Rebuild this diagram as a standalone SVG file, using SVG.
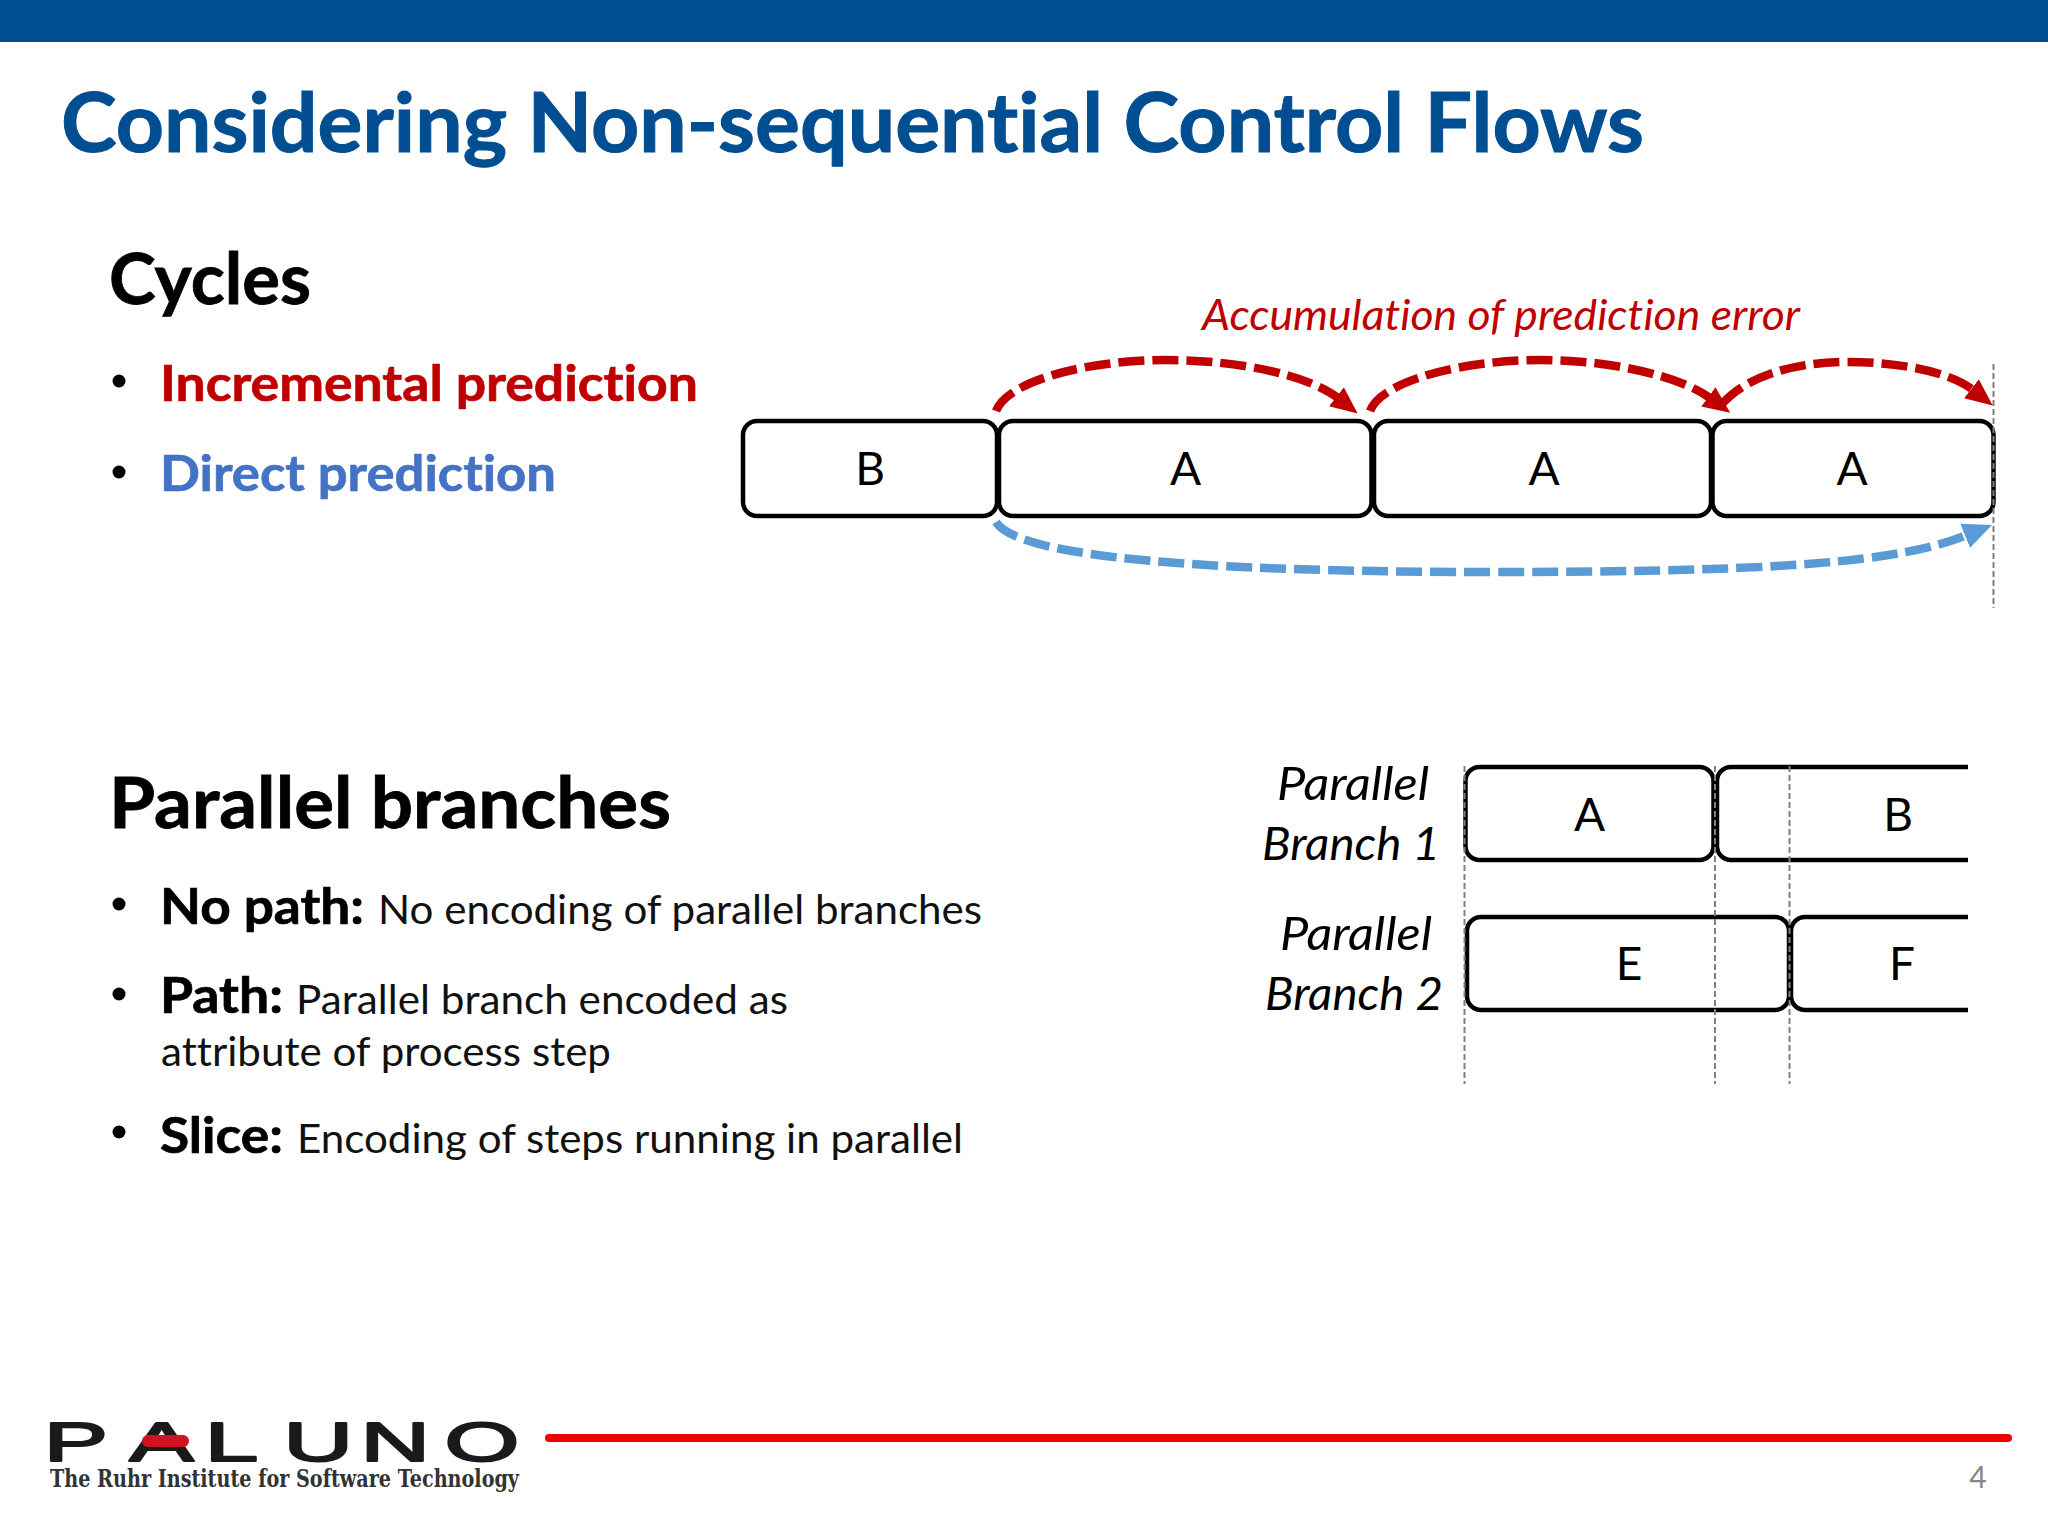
<svg xmlns="http://www.w3.org/2000/svg" width="2048" height="1536" viewBox="0 0 2048 1536">
<style>
text{font-family:Lato,"Open Sans","Liberation Sans",sans-serif;font-variant-ligatures:none}
.h{font-weight:700;fill:#000;font-size:70px;stroke:#000;stroke-width:.8}
.b{font-weight:700;font-size:50px;stroke-width:.7}
.t{font-size:41px;fill:#111}
.n{font-size:46px;fill:#000;text-anchor:middle}
.i{font-style:italic;font-size:47px;fill:#000}
.box{fill:#fff;stroke:#000;stroke-width:4.5}
.open{fill:none;stroke:#000;stroke-width:4.5}
.v{stroke:#808080;stroke-width:2;stroke-dasharray:6 3;fill:none}
.r{fill:none;stroke:#C00000;stroke-width:8.500;stroke-dasharray:26 8}
.bl{fill:none;stroke:#5B9BD5;stroke-width:8.500;stroke-dasharray:26 8}
</style>
<defs>
<marker id="ar" markerUnits="userSpaceOnUse" markerWidth="30" markerHeight="28" refX="2" refY="14" orient="auto"><path d="M0 2L27 14L0 26Z" fill="#C00000"/></marker>
<marker id="ab" markerUnits="userSpaceOnUse" markerWidth="32" markerHeight="30" refX="2" refY="15" orient="auto"><path d="M0 2L29 15L0 28Z" fill="#5B9BD5"/></marker>
</defs>
<rect width="2048" height="1536" fill="#fff"/>
<rect id="top-bar" width="2048" height="42" fill="#004E92"/>
<text x="61" y="152" font-size="82" font-weight="700" fill="#004E92" stroke="#004E92" stroke-width="1" textLength="1583" lengthAdjust="spacingAndGlyphs">Considering Non-sequential Control Flows</text>

<text class="h" x="109" y="304" textLength="202" lengthAdjust="spacingAndGlyphs">Cycles</text>
<circle cx="119" cy="381" r="6.5"/>
<text class="b" x="160" y="401" fill="#C00000" stroke="#C00000" textLength="538" lengthAdjust="spacingAndGlyphs">Incremental prediction</text>
<circle cx="119" cy="472" r="6.5"/>
<text class="b" x="160" y="491" fill="#4472C4" stroke="#4472C4" textLength="396" lengthAdjust="spacingAndGlyphs">Direct prediction</text>

<text class="h" x="109" y="828" textLength="562" lengthAdjust="spacingAndGlyphs">Parallel branches</text>
<circle cx="119" cy="904" r="6.5"/>
<text class="b" x="160" y="924" fill="#000" stroke="#000" textLength="204" lengthAdjust="spacingAndGlyphs">No path:</text>
<text class="t" x="378" y="924" textLength="604" lengthAdjust="spacingAndGlyphs">No encoding of parallel branches</text>
<circle cx="119" cy="994" r="6.5"/>
<text class="b" x="160" y="1013" fill="#000" stroke="#000" textLength="123" lengthAdjust="spacingAndGlyphs">Path:</text>
<text class="t" x="296" y="1014" textLength="492" lengthAdjust="spacingAndGlyphs">Parallel branch encoded as</text>
<text class="t" x="161" y="1066" textLength="450" lengthAdjust="spacingAndGlyphs">attribute of process step</text>
<circle cx="119" cy="1132" r="6.5"/>
<text class="b" x="160" y="1153" fill="#000" stroke="#000" textLength="123" lengthAdjust="spacingAndGlyphs">Slice:</text>
<text class="t" x="297" y="1153" textLength="666" lengthAdjust="spacingAndGlyphs">Encoding of steps running in parallel</text>

<text x="1202" y="330" font-size="43" font-style="italic" fill="#C00000" textLength="598" lengthAdjust="spacingAndGlyphs">Accumulation of prediction error</text>

<g id="cycle-b"><rect class="box" x="743" y="421" width="254" height="95" rx="14"/><text class="n" x="870" y="485">B</text></g>
<g id="cycle-a1"><rect class="box" x="999" y="421" width="372.500" height="95" rx="14"/><text class="n" x="1185.500" y="485">A</text></g>
<g id="cycle-a2"><rect class="box" x="1374" y="421" width="337" height="95" rx="14"/><text class="n" x="1544" y="485">A</text></g>
<g id="cycle-a3"><rect class="box" x="1712.500" y="421" width="281" height="95" rx="14"/><text class="n" x="1852" y="485">A</text></g>

<g id="parallel-labels">
<text class="i" x="1277" y="800" textLength="152" lengthAdjust="spacingAndGlyphs">Parallel</text>
<text class="i" x="1262" y="860" textLength="178" lengthAdjust="spacingAndGlyphs">Branch 1</text>
<text class="i" x="1280" y="950" textLength="152" lengthAdjust="spacingAndGlyphs">Parallel</text>
<text class="i" x="1265" y="1010" textLength="178" lengthAdjust="spacingAndGlyphs">Branch 2</text>
</g>
<g id="par-a"><rect class="box" x="1465.500" y="767" width="248" height="93" rx="14"/><text class="n" x="1589.500" y="831">A</text></g>
<g id="par-b"><path class="open" d="M1968 767H1731A14 14 0 0 0 1717 781V846A14 14 0 0 0 1731 860H1968"/><text class="n" x="1898" y="831">B</text></g>
<g id="par-e"><rect class="box" x="1467" y="917" width="322" height="93" rx="14"/><text class="n" x="1629" y="980">E</text></g>
<g id="par-f"><path class="open" d="M1968 917H1805A14 14 0 0 0 1791 931V996A14 14 0 0 0 1805 1010H1968"/><text class="n" x="1902" y="980">F</text></g>

<g id="connectors">
<path class="v" d="M1993.500 364V608"/>
<path class="v" d="M1464.500 766V1084M1715 766V1084M1789.500 766V1084"/>
<path class="r" marker-end="url(#ar)" d="M996 411C1008 380 1090 360 1166 360C1240 360 1310 376 1338 398"/>
<path class="r" marker-end="url(#ar)" d="M1370 411C1382 380 1465 360 1541 360C1610 360 1680 376 1710 398"/>
<path class="r" marker-end="url(#ar)" d="M1722 404C1745 378 1790 362 1848 362C1900 362 1950 372 1973 390"/>
<path class="bl" marker-end="url(#ab)" d="M996 522C1010 545 1100 572 1494 572C1780 572 1900 562 1967 535"/>
</g>

<g id="logo">
<text transform="translate(0 1461) scale(1.75 1)" x="25 74 117 162 206 254" font-size="55" stroke="#1a1a1a" stroke-width="2" stroke-linejoin="round" fill="#1a1a1a" style="font-family:'Liberation Sans',sans-serif">PALUNO</text>
<rect x="142" y="1435" width="47" height="12" rx="6" fill="#D0121F"/>
<text x="50" y="1487" font-size="24" font-weight="700" fill="#333" style="font-family:'DejaVu Serif',serif" textLength="469" lengthAdjust="spacingAndGlyphs">The Ruhr Institute for Software Technology</text>
</g>
<path id="footer-line" d="M549 1438H2008" stroke="#F00000" stroke-width="8" stroke-linecap="round"/>
<text x="1978" y="1488" font-size="30" fill="#888" text-anchor="middle">4</text>
</svg>
